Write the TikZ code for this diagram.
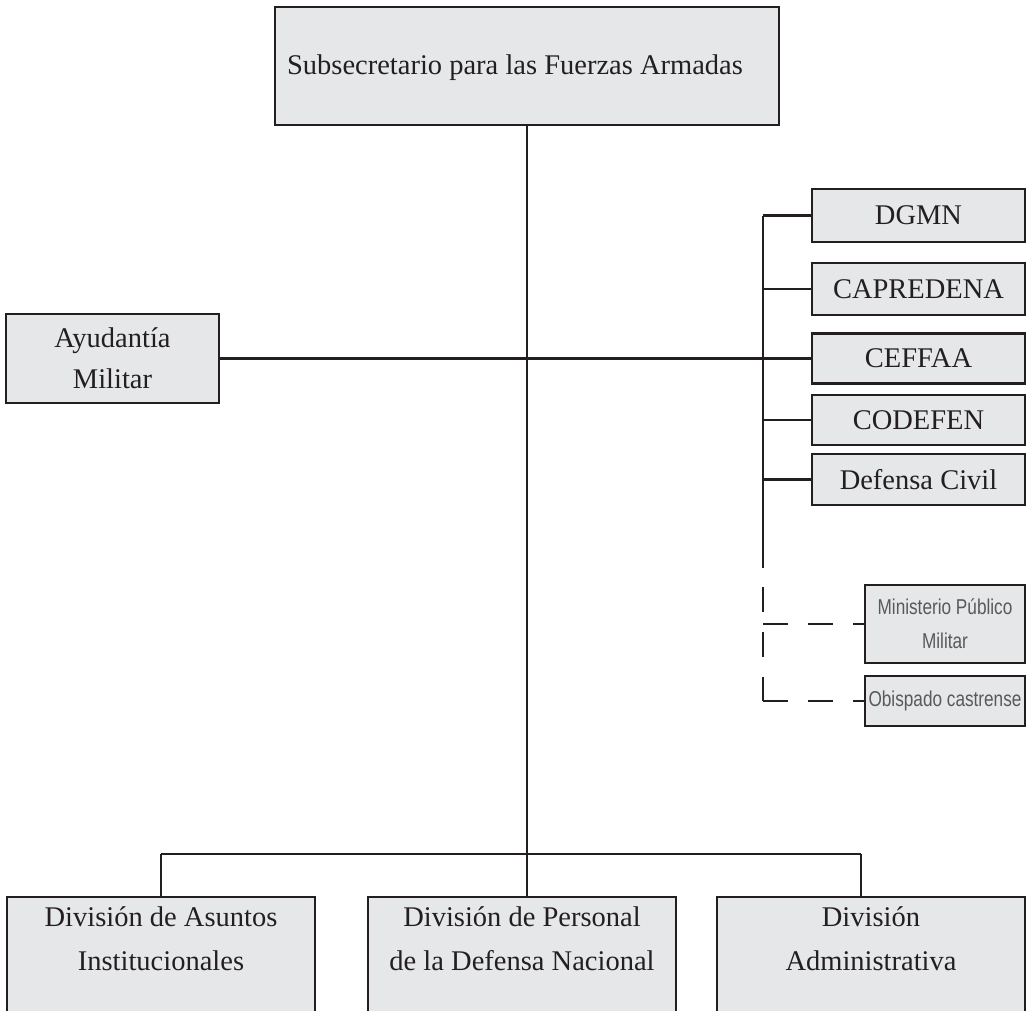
\documentclass[tikz,border=0pt]{standalone}
\usepackage{fontspec}
\setmainfont{Liberation Serif}
\newfontfamily\narrowsans[FakeStretch=0.8]{Liberation Sans}
\definecolor{boxfill}{HTML}{E6E7E8}
\definecolor{ink}{HTML}{231F20}
\definecolor{greytxt}{HTML}{58595B}
\tikzset{
  orgbox/.style={draw=ink, fill=boxfill, line width=2.6pt, inner sep=0pt, text=ink, align=center,
                 font=\fontsize{28.5}{41}\selectfont},
  smallbox/.style={orgbox, text=greytxt, font=\narrowsans\fontsize{21.5}{34}\selectfont},
  boxtext/.style={inner sep=0pt, text=ink, align=center, font=\fontsize{28.5}{44}\selectfont},
  link/.style={draw=ink, line width=2.4pt},
  dlink/.style={link, dash pattern=on 25pt off 20pt},
}
\begin{document}
\begin{tikzpicture}[x=1pt,y=-1pt]
\clip (0,0) rectangle (1030,1011);
\fill[white] (0,0) rectangle (1030,1011);

% top
\node[orgbox, minimum width=504pt, minimum height=118pt] (top) at (527,66) {};
\node[inner sep=0pt, text=ink, font=\fontsize{28.5}{41}\selectfont] (topt) at ([xshift=-12pt,yshift=-2pt]top.center) {Subsecretario para las Fuerzas Armadas};
% left
\node[orgbox, minimum width=213pt, minimum height=89pt] (ayu) at (112.5,358.5) {Ayudantía\\Militar};
% right column
\node[orgbox, minimum width=213pt, minimum height=53pt] (dgmn) at (918.5,215.5) {DGMN};
\node[orgbox, minimum width=213pt, minimum height=52pt] (capr) at (918.5,289) {CAPREDENA};
\node[orgbox, minimum width=213pt, minimum height=50pt] (ceff) at (918.5,358.5) {CEFFAA};
\node[orgbox, minimum width=213pt, minimum height=50pt] (code) at (918.5,420) {CODEFEN};
\node[orgbox, minimum width=213pt, minimum height=51pt] (defc) at (918.5,479.5) {Defensa Civil};
\node[smallbox, minimum width=160pt, minimum height=78pt] (mpm) at (945,624) {Ministerio Público\\Militar};
\node[smallbox, minimum width=160pt, minimum height=50pt] (obi) at (945,701) {Obispado castrense};
% bottom
\node[orgbox, minimum width=308pt, minimum height=140pt] (divA) at (161,967) {};
\node[orgbox, minimum width=308pt, minimum height=140pt] (divP) at (522,967) {};
\node[orgbox, minimum width=308pt, minimum height=140pt] (divD) at (871,967) {};
\node[boxtext] (divAt) at ([yshift=-43pt]divA.north) {División de Asuntos\\Institucionales};
\node[boxtext] (divPt) at ([yshift=-43pt]divP.north) {División de Personal\\de la Defensa Nacional};
\node[boxtext] (divDt) at ([yshift=-43pt]divD.north) {División\\Administrativa};

% coordinates
\coordinate (rv) at (763,0);
\coordinate (bl) at (161,854);
\coordinate (br) at (861,854);
\coordinate (rvend) at (763,568);
\coordinate (rvdash) at (763,587);

% main trunk
\draw[link] (top.south) -- (top.south |- bl);
\draw[link] (bl) -- (br);
\draw[link] (bl) -- (divA.north);
\draw[link] (top.south |- bl) -- (top.south |- divP.north);
\draw[link] (br) -- (br |- divD.north);
% horizontal
\draw[link] (ayu.east) -- (ayu.east -| ceff.west);
% right spine
\draw[link] (rv |- dgmn.west) -- (rvend);
\draw[link] (rv |- dgmn.west) -- (dgmn.west);
\draw[link] (rv |- capr.west) -- (capr.west);
\draw[link] (rv |- code.west) -- (code.west);
\draw[link] (rv |- defc.west) -- (defc.west);
% dashed
\draw[dlink] (rvdash) -- (rv |- obi.west);
\draw[dlink] (rv |- mpm.west) -- (mpm.west);
\draw[dlink] (rv |- obi.west) -- (obi.west);
\end{tikzpicture}
\end{document}
